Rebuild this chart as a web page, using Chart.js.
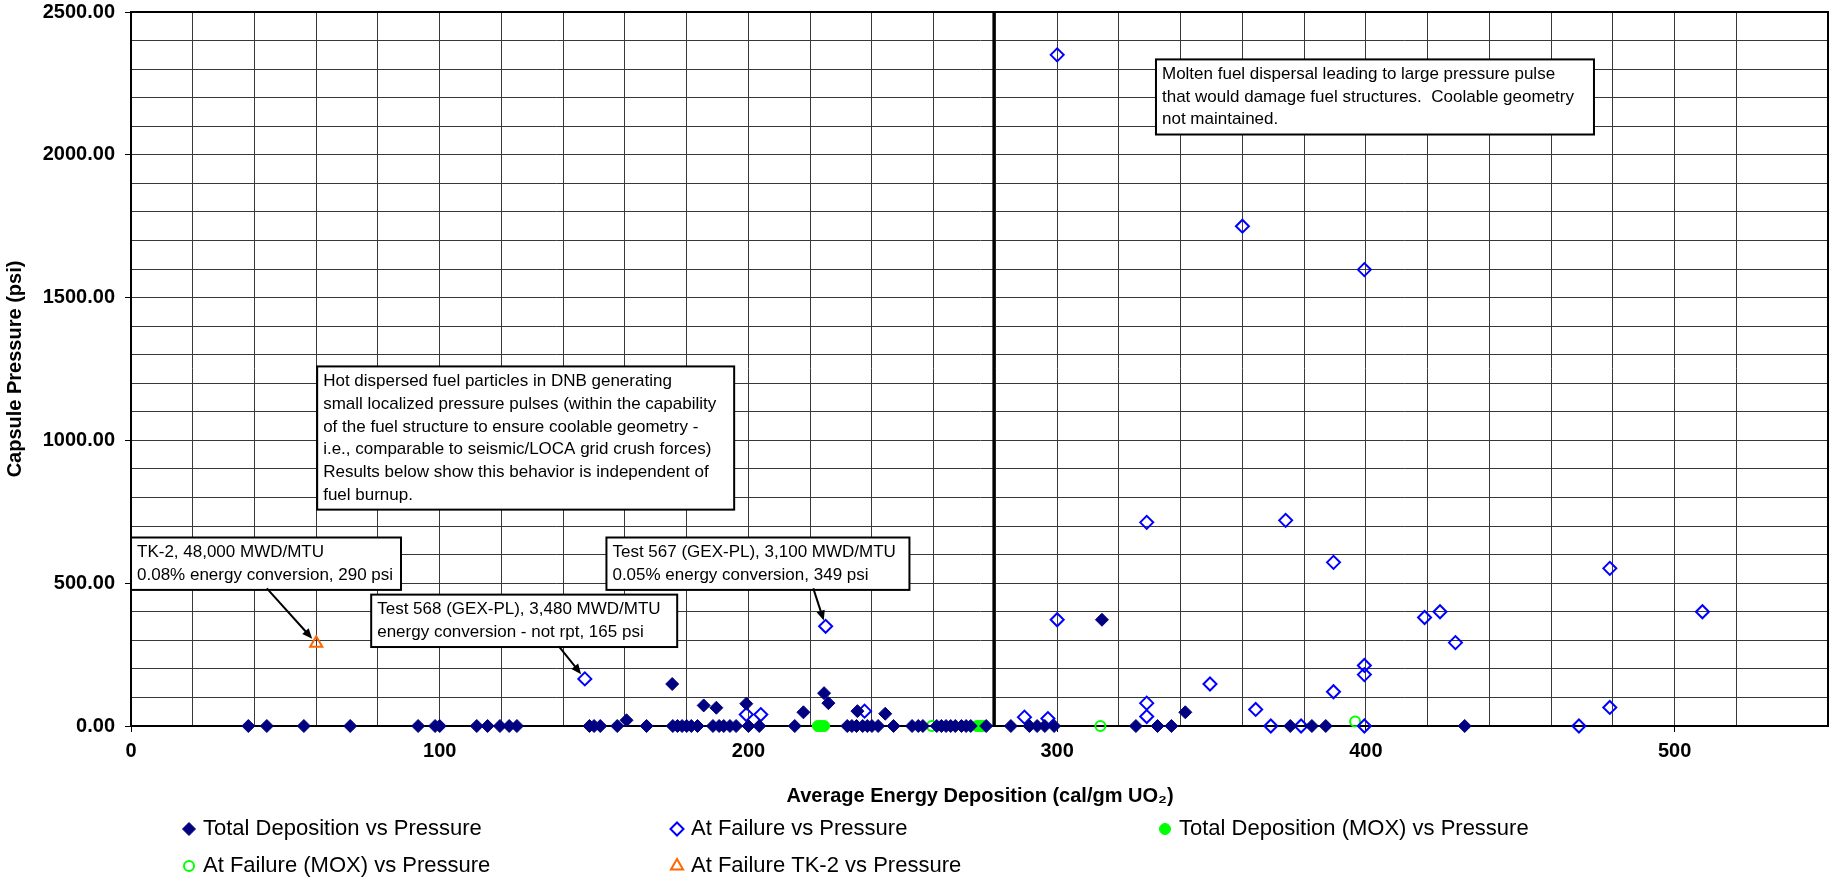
<!DOCTYPE html>
<html>
<head>
<meta charset="utf-8">
<script src="https://cdn.jsdelivr.net/npm/chart.js@4.4.0/dist/chart.umd.min.js"></script>
<style>
  html, body { margin: 0; padding: 0; background: #fff; }
</style>
</head>
<body>
<canvas id="pressureChart" width="1829" height="877"></canvas>
<script>
// Capsule pressure vs. average energy deposition (psi against cal/gm UO2)
const totalDepX = [38, 44, 56, 71, 93, 98.5, 100, 112, 115.5, 119.5,
                   122.5, 125, 148.5, 150, 152, 157.5, 160.5, 167, 175.3, 175.5,
                   177, 178.5, 180, 181.5, 183.5, 185.5, 188.5, 189.6, 190.5, 192,
                   194, 196, 199.3, 200, 203.5, 215, 217.8, 224.5, 225.9, 232,
                   233.5, 235, 235.3, 237, 238.5, 240, 242, 244.3, 247, 253,
                   255, 256.5, 261, 262.5, 264, 265.5, 267, 269, 270.5, 272,
                   277, 285, 291, 293.5, 296, 299, 314.5, 325.5, 332.5, 337,
                   341.5, 375.5, 382.5, 387, 432];
const totalDepY = [0, 0, 0, 0, 0, 0, 0, 0, 0, 0,
                   0, 0, 0, 0, 0, 0, 20, 0, 147, 0,
                   0, 0, 0, 0, 0, 72, 0, 64, 0, 0,
                   0, 0, 78, 0, 0, 0, 48, 115, 80, 0,
                   0, 0, 52, 0, 0, 0, 0, 43, 0, 0,
                   0, 0, 0, 0, 0, 0, 0, 0, 0, 0,
                   0, 0, 0, 0, 0, 0, 372, 0, 0, 0,
                   48, 0, 0, 0, 0];

const failX = [147, 199.3, 204, 225, 237.6, 289.4, 297, 300, 300, 329,
               329, 329, 349.5, 360, 364.3, 369.2, 374, 379, 389.5, 389.5,
               399.5, 399.5, 399.5, 399.5, 419, 424, 429, 469, 479, 479, 509];
const failY = [165, 40, 40, 349, 52, 31, 26, 2350, 372, 713,
               80, 33, 147, 1750, 58, 0, 720, 0, 573, 120,
               1598, 212, 180, 0, 380, 400, 292, 0, 552, 65, 400];

const moxTotalX = [222.5, 223.5, 224.5, 274, 275, 276];
const moxTotalY = [0, 0, 0, 0, 0, 0];

const moxFailX = [259.4, 314, 396.5];
const moxFailY = [0, 0, 16];

const tk2X = [60];
const tk2Y = [290];

const dividerAt = 279.5;

const FONT = "'Liberation Sans', Arial, sans-serif";
Chart.defaults.font.family = FONT;
Chart.defaults.color = '#000';

const toPoints = (xs, ys) => xs.map((x, i) => ({ x: x, y: ys[i] }));

// text boxes: top-left corner in data units, width in px, optional arrow (data units)
const notes = [
  { at: [332, 2334], w: 438, lines: [
      'Molten fuel dispersal leading to large pressure pulse',
      'that would damage fuel structures.  Coolable geometry',
      'not maintained.'] },
  { at: [60.3, 1259], w: 417, lines: [
      'Hot dispersed fuel particles in DNB generating',
      'small localized pressure pulses (within the capability',
      'of the fuel structure to ensure coolable geometry -',
      'i.e., comparable to seismic/LOCA grid crush forces)',
      'Results below show this behavior is independent of',
      'fuel burnup.'] },
  { at: [0, 660], w: 270, lines: [
      'TK-2, 48,000 MWD/MTU',
      '0.08% energy conversion, 290 psi'],
    from: [44, 482], to: [60, 290] },
  { at: [77.8, 460], w: 306, lines: [
      'Test 568 (GEX-PL), 3,480 MWD/MTU',
      'energy conversion - not rpt, 165 psi'],
    from: [138.6, 279], to: [147, 165] },
  { at: [154, 660], w: 303, lines: [
      'Test 567 (GEX-PL), 3,100 MWD/MTU',
      '0.05% energy conversion, 349 psi'],
    from: [221, 482], to: [225, 349] }
];

const frameAndDivider = {
  id: 'frameAndDivider',
  beforeDatasetsDraw(chart) {
    const { ctx, chartArea: a, scales: { x } } = chart;
    ctx.save();
    ctx.strokeStyle = '#000';
    ctx.lineWidth = 2;
    ctx.strokeRect(a.left, a.top, a.right - a.left - 1, a.bottom - a.top);
    const px = x.getPixelForValue(dividerAt);
    ctx.lineWidth = 3;
    ctx.beginPath();
    ctx.moveTo(px, a.top);
    ctx.lineTo(px, a.bottom);
    ctx.stroke();
    ctx.restore();
  }
};

const noteBoxes = {
  id: 'noteBoxes',
  afterDatasetsDraw(chart) {
    const { ctx, scales: { x, y } } = chart;
    ctx.save();
    ctx.font = `17px ${FONT}`;
    ctx.textBaseline = 'middle';
    notes.forEach(n => {
      const left = x.getPixelForValue(n.at[0]);
      const top = y.getPixelForValue(n.at[1]);
      const h = n.lines.length * 22.7 + 7;
      ctx.fillStyle = '#fff';
      ctx.fillRect(left, top, n.w, h);
      ctx.strokeStyle = '#000';
      ctx.lineWidth = 2;
      ctx.strokeRect(left, top, n.w, h);
      ctx.fillStyle = '#000';
      n.lines.forEach((t, i) => ctx.fillText(t, left + 6, top + 15 + i * 22.7));
      if (n.from) {
        const x0 = x.getPixelForValue(n.from[0]), y0 = y.getPixelForValue(n.from[1]);
        let x1 = x.getPixelForValue(n.to[0]), y1 = y.getPixelForValue(n.to[1]);
        const ang = Math.atan2(y1 - y0, x1 - x0);
        x1 -= Math.cos(ang) * 6;
        y1 -= Math.sin(ang) * 6;
        ctx.beginPath();
        ctx.moveTo(x0, y0);
        ctx.lineTo(x1 - Math.cos(ang) * 6, y1 - Math.sin(ang) * 6);
        ctx.stroke();
        ctx.beginPath();
        ctx.moveTo(x1, y1);
        ctx.lineTo(x1 - 11 * Math.cos(ang - 0.4), y1 - 11 * Math.sin(ang - 0.4));
        ctx.lineTo(x1 - 11 * Math.cos(ang + 0.4), y1 - 11 * Math.sin(ang + 0.4));
        ctx.closePath();
        ctx.fill();
      }
    });
    ctx.restore();
  }
};

// legend laid out as a three-column grid under the axis title
const gridLegend = {
  id: 'gridLegend',
  afterDraw(chart) {
    const { ctx } = chart;
    ctx.save();
    ctx.font = `22px ${FONT}`;
    ctx.textBaseline = 'middle';
    chart.data.datasets.forEach((ds, i) => {
      const cx = 189 + (i % 3) * 488;
      const cy = 829 + Math.floor(i / 3) * 37;
      ctx.fillStyle = ds.backgroundColor;
      ctx.strokeStyle = ds.borderColor;
      ctx.lineWidth = ds.borderWidth;
      Chart.helpers.drawPoint(ctx, {
        pointStyle: ds.pointStyle, radius: ds.pointRadius,
        rotation: 0, borderWidth: ds.borderWidth
      }, cx, cy);
      ctx.fillStyle = '#000';
      ctx.fillText(ds.label, cx + 14, cy);
    });
    ctx.restore();
  }
};

new Chart(document.getElementById('pressureChart'), {
  type: 'scatter',
  data: {
    datasets: [{
      label: 'Total Deposition vs Pressure',
      data: toPoints(totalDepX, totalDepY),
      pointStyle: 'rectRot', pointRadius: 6.5,
      backgroundColor: '#000080', borderColor: '#000080', borderWidth: 1
    }, {
      label: 'At Failure vs Pressure',
      data: toPoints(failX, failY),
      pointStyle: 'rectRot', pointRadius: 6.5,
      backgroundColor: 'rgba(0,0,0,0)', borderColor: '#0000FF', borderWidth: 2
    }, {
      label: 'Total Deposition (MOX) vs Pressure',
      data: toPoints(moxTotalX, moxTotalY),
      pointStyle: 'circle', pointRadius: 5.5,
      backgroundColor: '#00FF00', borderColor: '#00FF00', borderWidth: 1
    }, {
      label: 'At Failure (MOX) vs Pressure',
      data: toPoints(moxFailX, moxFailY),
      pointStyle: 'circle', pointRadius: 5,
      backgroundColor: 'rgba(0,0,0,0)', borderColor: '#00FF00', borderWidth: 2
    }, {
      label: 'At Failure TK-2 vs Pressure',
      data: toPoints(tk2X, tk2Y),
      pointStyle: 'triangle', pointRadius: 7,
      backgroundColor: 'rgba(0,0,0,0)', borderColor: '#FF6600', borderWidth: 2
    }]
  },
  options: {
    responsive: false,
    animation: false,
    devicePixelRatio: 1,
    clip: false,
    layout: { autoPadding: false, padding: { top: 12, right: 0, bottom: 56, left: 0 } },
    plugins: { legend: { display: false }, tooltip: { enabled: false } },
    scales: {
      x: {
        type: 'linear', min: 0, max: 550,
        afterFit: s => {
          s.height = 95;
          s.paddingLeft = 0;
          s.paddingRight = 0;
        },
        ticks: {
          stepSize: 20, autoSkip: false, maxRotation: 0, padding: 7,
          font: { size: 20, weight: 'bold' },
          callback: v => (v % 100 === 0 ? v : '')
        },
        grid: {
          color: '#383838', lineWidth: 1, tickLength: 6,
          tickColor: c => (c.tick && c.tick.value % 100 === 0 ? '#000' : 'rgba(0,0,0,0)')
        },
        border: { color: '#000', width: 2 },
        title: {
          display: true, text: 'Average Energy Deposition (cal/gm UO\u2082)',
          font: { size: 20, weight: 'bold' }, padding: { top: 0, bottom: 13 }
        }
      },
      y: {
        type: 'linear', min: 0, max: 2500,
        afterFit: s => {
          s.width = 131;
          s.paddingTop = 0;
          s.paddingBottom = 0;
        },
        ticks: {
          stepSize: 100, autoSkip: false, padding: 10,
          font: { size: 20, weight: 'bold' },
          callback: v => (v % 500 === 0 ? v.toFixed(2) : '')
        },
        grid: {
          color: '#383838', lineWidth: 1, tickLength: 6,
          tickColor: c => (c.tick && c.tick.value % 500 === 0 ? '#000' : 'rgba(0,0,0,0)')
        },
        border: { color: '#000', width: 2 },
        title: {
          display: true, text: 'Capsule Pressure (psi)',
          font: { size: 20, weight: 'bold' }, padding: { top: 3, bottom: 0 }
        }
      }
    }
  },
  plugins: [frameAndDivider, noteBoxes, gridLegend]
});
</script>
</body>
</html>
